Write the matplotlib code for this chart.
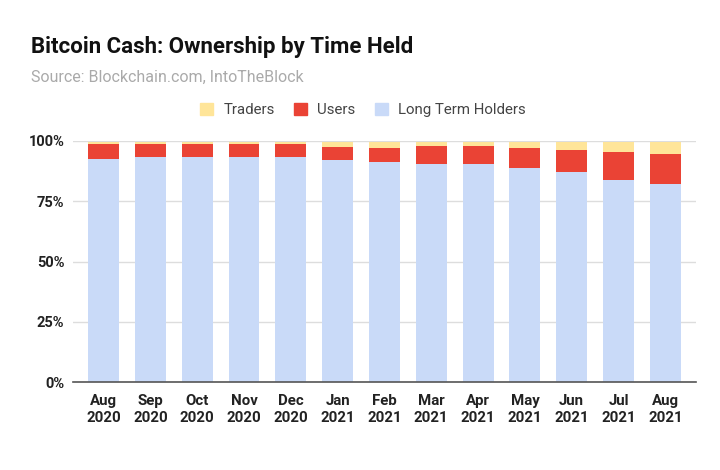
import matplotlib
matplotlib.use("Agg")
import matplotlib.pyplot as plt
import numpy as np
from matplotlib.patches import Patch

months = ["Aug\n2020", "Sep\n2020", "Oct\n2020", "Nov\n2020", "Dec\n2020", "Jan\n2021",
          "Feb\n2021", "Mar\n2021", "Apr\n2021", "May\n2021", "Jun\n2021", "Jul\n2021", "Aug\n2021"]
long_term = [92.6, 93.2, 93.2, 93.2, 93.2, 92.2, 91.3, 90.3, 90.3, 88.8, 87.0, 83.9, 82.0]
users = [6.0, 5.4, 5.4, 5.4, 5.4, 5.4, 5.7, 7.5, 7.5, 8.3, 9.3, 11.4, 12.8]
traders = [1.0, 1.0, 1.0, 1.0, 1.0, 2.0, 2.6, 1.8, 1.8, 2.5, 3.3, 4.3, 4.9]
yticks = [0, 25, 50, 75, 100]
ytick_labels = ["0%", "25%", "50%", "75%", "100%"]

plt.rcParams["font.family"] = ["Roboto", "DejaVu Sans"]

c_lth = "#c9daf8"
c_users = "#ea4335"
c_traders = "#ffe599"

fig = plt.figure(figsize=(7.2, 4.7), dpi=100)
ax = fig.add_axes([0.101, 0.187, 0.866, 0.513])

x = np.arange(len(months))
w = 0.66
lt = np.array(long_term)
us = np.array(users)
tr = np.array(traders)
ax.bar(x, lt, w, color=c_lth, zorder=2)
ax.bar(x, us, w, bottom=lt, color=c_users, zorder=2)
ax.bar(x, tr, w, bottom=lt + us, color=c_traders, zorder=2)

ax.set_xlim(-0.66, len(months) - 1 + 0.66)
ax.set_ylim(0, 100)
ax.set_yticks(yticks)
ax.set_yticklabels(ytick_labels, fontsize=10.5, fontweight="bold", color="#222222")
ax.set_xticks(x)
ax.set_xticklabels(months, fontsize=10.8, fontweight="bold", color="#222222", linespacing=1.25)
ax.tick_params(axis="x", length=0, pad=8.5)
ax.tick_params(axis="y", length=0, pad=6)
ax.grid(axis="y", color="#dddddd", linewidth=1, zorder=0)
for s in ["top", "right", "left"]:
    ax.spines[s].set_visible(False)
ax.spines["bottom"].set_color("#555555")
ax.spines["bottom"].set_linewidth(1.2)
ax.spines["bottom"].set_zorder(3)

fig.text(31 / 720, 1 - 53 / 470, "Bitcoin Cash: Ownership by Time Held", fontsize=16,
         fontweight="bold", color="#111111", va="baseline", ha="left")
fig.text(31 / 720, 1 - 82 / 470, "Source: Blockchain.com, IntoTheBlock", fontsize=11.5,
         color="#aaaaaa", va="baseline", ha="left")

handles = [Patch(color=c_traders, label="Traders"),
           Patch(color=c_users, label="Users"),
           Patch(color=c_lth, label="Long Term Holders")]
fig.legend(handles=handles, loc="center", bbox_to_anchor=(363 / 720, 1 - 110 / 470), ncol=3,
           frameon=False, fontsize=10.8, handlelength=0.85, handleheight=0.85,
           handletextpad=0.7, columnspacing=1.3, labelcolor="#444444")

fig.savefig("out.png", dpi=100, facecolor="white")
